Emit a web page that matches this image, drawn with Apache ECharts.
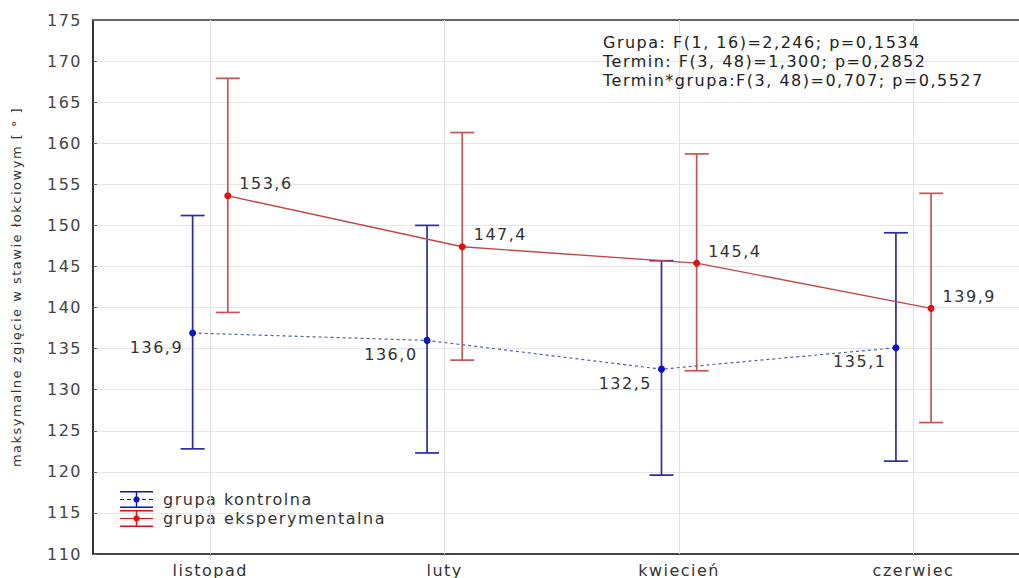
<!DOCTYPE html>
<html>
<head>
<meta charset="utf-8">
<script src="https://cdn.jsdelivr.net/npm/echarts@6/dist/echarts.min.js"></script>
<style>
  html, body { margin: 0; padding: 0; background: #ffffff; }
  #chart { width: 1019px; height: 578px; }
  /* wide, airy lettering for every label */
  #chart text { letter-spacing: 1.5px; }
</style>
</head>
<body>
<div id="chart"></div>
<script>
// Terms of measurement
const months = ['listopad', 'luty', 'kwiecień', 'czerwiec'];

// Control group: means and interval ends
const kontrolMean = [136.9, 136.0, 132.5, 135.1];
const kontrolLow  = [122.8, 122.3, 119.6, 121.3];
const kontrolHigh = [151.2, 150.0, 145.7, 149.1];

// Experimental group: means and interval ends
const eksperMean = [153.6, 147.4, 145.4, 139.9];
const eksperLow  = [139.4, 133.6, 132.3, 126.0];
const eksperHigh = [167.9, 161.3, 158.7, 153.9];

// Y axis ticks
const yMin = 110, yMax = 175, yStep = 5;

// ANOVA summary lines
const statsLines = [
  'Grupa: F(1, 16)=2,246; p=0,1534',
  'Termin: F(3, 48)=1,300; p=0,2852',
  'Termin*grupa:F(3, 48)=0,707; p=0,5527'
];

const seriesNames = ['grupa kontrolna', 'grupa eksperymentalna'];

// horizontal shift of each group away from the term position
const shift = 0.075;
const font = '"DejaVu Sans", Verdana, sans-serif';

const posIdx = months.map((_, i) => i);
const kontrolPts = kontrolMean.map((v, i) => [i - shift, v]);
const eksperPts  = eksperMean.map((v, i) => [i + shift, v]);
const kontrolBars = kontrolMean.map((_, i) => [i - shift, kontrolLow[i], kontrolHigh[i]]);
const eksperBars  = eksperMean.map((_, i) => [i + shift, eksperLow[i], eksperHigh[i]]);

function errorBar(color) {
  return function (params, api) {
    const x = api.value(0);
    const top = api.coord([x, api.value(2)]);
    const bot = api.coord([x, api.value(1)]);
    const w = 12;
    const st = { stroke: color, lineWidth: 1.7 };
    return {
      type: 'group',
      children: [
        { type: 'line', shape: { x1: top[0], y1: top[1], x2: bot[0], y2: bot[1] }, style: st },
        { type: 'line', shape: { x1: top[0] - w, y1: top[1], x2: top[0] + w, y2: top[1] }, style: st },
        { type: 'line', shape: { x1: bot[0] - w, y1: bot[1], x2: bot[0] + w, y2: bot[1] }, style: st }
      ]
    };
  };
}

// legend glyphs: capped bar, a line through it (dashed or solid) and a dot
const capsAndStem = 'M0,0h33v1.4h-33z M15.8,0h1.4v17h-1.4z M0,15.6h33v1.4h-33z ';
const dot = 'M16.5,5.3a3.2,3.2 0 1,1 -0.01,0z';
const iconDashed = 'path://' + capsAndStem +
  'M0,7.9h4v1.2h-4z M7,7.9h4v1.2h-4z M22,7.9h4v1.2h-4z M29,7.9h4v1.2h-4z ' + dot;
const iconSolid = 'path://' + capsAndStem + 'M0,7.9h33v1.2h-33z ' + dot;

const chart = echarts.init(document.getElementById('chart'), null, { renderer: 'svg' });

chart.setOption({
  backgroundColor: '#ffffff',
  animation: false,
  grid: { left: 93, right: 0, top: 20, bottom: 23, containLabel: false },
  xAxis: [
    {
      type: 'value', position: 'bottom', min: -0.5, max: 3.45,
      axisLine: { show: true, onZero: false, lineStyle: { color: '#444', width: 2 } },
      axisTick: { show: true, inside: true, length: 4, customValues: posIdx, lineStyle: { color: '#444' } },
      axisLabel: {
        customValues: posIdx, margin: 8,
        formatter: v => months[Math.round(v)] || '',
        fontFamily: font, fontSize: 16, color: '#333'
      },
      splitLine: { show: false }
    },
    {
      type: 'value', position: 'top', min: -0.5, max: 3.45,
      axisLine: { show: true, onZero: false, lineStyle: { color: '#666', width: 2 } },
      axisTick: { show: true, inside: true, length: 4, customValues: posIdx, lineStyle: { color: '#666' } },
      axisLabel: { show: false },
      splitLine: { show: false }
    }
  ],
  yAxis: {
    type: 'value', min: yMin, max: yMax, interval: yStep,
    name: 'maksymalne zgięcie w stawie łokciowym [ ° ]',
    nameLocation: 'middle', nameGap: 70, nameRotate: 90,
    nameTextStyle: { fontFamily: font, fontSize: 13, color: '#333' },
    axisLine: { show: true, onZero: false, lineStyle: { color: '#333', width: 2 } },
    axisTick: { show: true, inside: true, length: 4, lineStyle: { color: '#666' } },
    axisLabel: { margin: 11, fontFamily: font, fontSize: 16, color: '#444' },
    splitLine: { show: true, lineStyle: { color: '#e6e6e6', width: 1 } }
  },
  legend: {
    data: [
      { name: seriesNames[0], icon: iconDashed },
      { name: seriesNames[1], icon: iconSolid }
    ],
    orient: 'vertical', left: 115, top: 486,
    itemWidth: 33, itemHeight: 17, itemGap: 2,
    textStyle: { fontFamily: font, fontSize: 16, color: '#333', padding: [0, 0, 0, 5] }
  },
  graphic: [
    {
      type: 'text', left: 603, top: 33,
      style: {
        text: statsLines.join('\n'),
        font: '16px ' + font, fill: '#222', lineHeight: 19
      },
      z: 10
    }
  ],
  series: [
    {
      // vertical grid lines at each term
      type: 'line', data: [], silent: true,
      markLine: {
        symbol: 'none', silent: true, label: { show: false },
        lineStyle: { color: '#e0e0e0', type: 'solid', width: 1 },
        data: posIdx.map(i => ({ xAxis: i }))
      }
    },
    {
      name: 'kontrolna-przedzial', type: 'custom',
      renderItem: errorBar('#2b2ba6'), data: kontrolBars, z: 3,
      encode: { x: 0, y: [1, 2] }
    },
    {
      name: 'eksperymentalna-przedzial', type: 'custom',
      renderItem: errorBar('#c85555'), data: eksperBars, z: 3,
      encode: { x: 0, y: [1, 2] }
    },
    {
      name: seriesNames[0], type: 'line', data: kontrolPts, z: 5,
      symbol: 'circle', symbolSize: 7,
      itemStyle: { color: '#1010c8' },
      lineStyle: { color: '#5060a0', width: 1.2, type: [3, 3] },
      label: {
        show: true, position: 'left', distance: 6, offset: [0, 14],
        formatter: p => p.value[1].toFixed(1).replace('.', ','),
        fontFamily: font, fontSize: 16, color: '#333'
      }
    },
    {
      name: seriesNames[1], type: 'line', data: eksperPts, z: 5,
      symbol: 'circle', symbolSize: 7,
      itemStyle: { color: '#e01010' },
      lineStyle: { color: '#c04848', width: 1.4 },
      label: {
        show: true, position: 'right', distance: 8, offset: [0, -12],
        formatter: p => p.value[1].toFixed(1).replace('.', ','),
        fontFamily: font, fontSize: 16, color: '#333'
      }
    }
  ]
});
</script>
</body>
</html>
